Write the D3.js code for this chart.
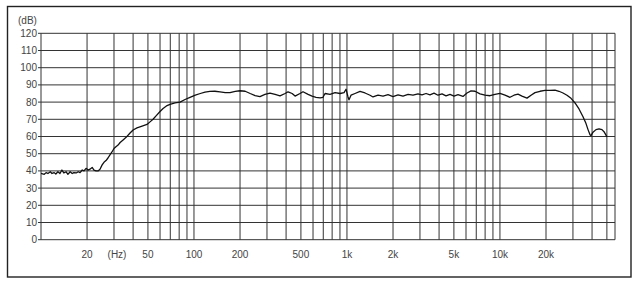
<!DOCTYPE html>
<html>
<head>
<meta charset="utf-8">
<script src="https://cdn.jsdelivr.net/npm/d3@7"></script>
<style>
  body { margin: 0; background: #fff; }
  svg text { font-family: "Liberation Sans", Arial, sans-serif; font-size: 10px; fill: #444; }
</style>
</head>
<body>
<div id="chart"></div>
<script>
// frequency response (Hz / dB)
var freq = [10, 10.5, 10.8, 11.1, 11.5, 11.8, 12.2, 12.5, 12.9, 13.3, 13.7, 14.1, 14.6, 15.0, 15.5, 16.0, 16.4, 17.0, 17.5, 18.0,
  18.6, 19.1, 19.7, 20.3, 20.9, 21.6, 22.2, 22.9, 23.6, 24.3, 25.1, 25.8, 26.6, 27.4, 28.3, 29.1, 30.0, 30.9, 31.9, 32.9,
  34.4, 36.0, 38.2, 40.0, 42.4, 45.8, 49.3, 51.6, 54.0, 56.5, 60.0, 62.8, 66.7, 69.7, 75.2, 81.1, 87.4, 94.2, 102, 110,
  118, 127, 137, 148, 160, 172, 186, 200, 216, 233, 251, 270, 291, 314, 339, 365, 394, 412, 438, 458,
  493, 516, 557, 591, 628, 667, 697, 719, 775, 836, 901, 957, 986, 1016, 1031, 1063, 1129, 1217, 1312, 1415,
  1480, 1596, 1721, 1855, 2000, 2156, 2325, 2507, 2702, 2913, 3094, 3287, 3490, 3707, 3937, 4182, 4440, 4716, 5009, 5320,
  5735, 6091, 6469, 6871, 7407, 7985, 8610, 9283, 10005, 10790, 11633, 12354, 13122, 13936, 15026, 15960, 16952, 18276, 19702, 21240,
  22900, 24320, 25830, 27430, 29140, 30950, 32870, 34910, 36530, 37640, 38790, 39380, 40580, 42450, 44410, 46460, 47880, 50070];
var level = [38.5, 38, 39, 38.5, 39.5, 38.5, 39, 38.2, 39.5, 38.5, 40.5, 38.8, 39.5, 38, 39.5, 38.5, 39, 38.8, 39.5, 39,
  40.5, 40, 41.5, 40.5, 41, 42, 40.5, 40, 40, 41, 43.5, 45, 46, 47.5, 49.5, 51, 53, 54, 55, 56.5,
  58, 59.5, 62, 63.8, 65, 66, 67, 68.5, 70, 72, 74.5, 76.3, 78, 78.7, 79.5, 80, 81.5, 82.8, 84, 85,
  85.8, 86.2, 86.3, 86, 85.5, 85.5, 86.2, 86.6, 86.3, 85, 83.8, 83.2, 84.5, 85.2, 84.5, 83.6, 85, 86, 85, 83.5,
  85, 86, 84.5, 83.5, 82.8, 82.5, 82.8, 85, 84.5, 85.5, 85, 85.5, 87.5, 83, 81.3, 84, 85, 86.2, 85.3, 84,
  83, 84, 83.5, 84.3, 83.2, 84.2, 83.5, 84.5, 84, 84.8, 84.2, 85, 84.2, 85.2, 84, 84.8, 83.6, 84.5, 83.5, 84.3,
  83.3, 85.3, 86.5, 86.3, 84.8, 84, 83.7, 84.5, 85.1, 84, 82.8, 84, 84.6, 83.5, 82.3, 84, 85.5, 86.3, 86.8, 86.8,
  87, 86.3, 85.3, 84, 82.2, 79.5, 76, 71.5, 67.5, 64, 61, 60.5, 62.5, 64, 64.4, 64, 62.8, 59.8];

var gridFreqs = [20, 30, 40, 50, 60, 70, 80, 90, 100, 200, 300, 400, 500, 600, 700, 800, 900,
  1000, 2000, 3000, 4000, 5000, 6000, 7000, 8000, 9000, 10000, 20000, 30000, 40000, 50000];
var xTickValues = [20, 50, 100, 200, 500, 1000, 2000, 5000, 10000, 20000];
var xTickLabels = ["20", "50", "100", "200", "500", "1k", "2k", "5k", "10k", "20k"];
var yTickValues = [0, 10, 20, 30, 40, 50, 60, 70, 80, 90, 100, 110, 120];

var width = 640, height = 286;
var plotLeft = 41, plotRight = 615, plotTop = 33.3, plotBottom = 239.7;

var svg = d3.select("#chart").append("svg")
  .attr("width", width)
  .attr("height", height);

// outer frame
svg.append("rect")
  .attr("x", 7.5).attr("y", 6.5)
  .attr("width", 623.5).attr("height", 270.5)
  .attr("fill", "none")
  .attr("stroke", "#222")
  .attr("stroke-width", 1.4);

var x = d3.scaleLog().domain([10, 56500]).range([plotLeft, plotRight]);
var y = d3.scaleLinear().domain([0, 120]).range([plotBottom, plotTop]);

// horizontal grid, with a little tick sticking out on the left
svg.append("g").selectAll("line")
  .data(yTickValues)
  .enter()
  .append("line")
  .attr("x1", plotLeft - 3).attr("x2", plotRight)
  .attr("y1", function(d) { return y(d); })
  .attr("y2", function(d) { return y(d); })
  .attr("stroke", "#333")
  .attr("stroke-width", 1);

// vertical grid
svg.append("g").selectAll("line")
  .data(gridFreqs)
  .enter()
  .append("line")
  .attr("x1", function(d) { return x(d); })
  .attr("x2", function(d) { return x(d); })
  .attr("y1", plotTop).attr("y2", plotBottom)
  .attr("stroke", "#333")
  .attr("stroke-width", 1);

// plot borders left/right
svg.append("line").attr("x1", plotLeft).attr("x2", plotLeft).attr("y1", plotTop).attr("y2", plotBottom)
  .attr("stroke", "#333").attr("stroke-width", 1);
svg.append("line").attr("x1", plotRight).attr("x2", plotRight).attr("y1", plotTop).attr("y2", plotBottom)
  .attr("stroke", "#333").attr("stroke-width", 1);

// y labels
svg.append("g").selectAll("text")
  .data(yTickValues)
  .enter()
  .append("text")
  .attr("x", 37)
  .attr("y", function(d) { return y(d) + 3.5; })
  .attr("text-anchor", "end")
  .text(function(d) { return d; });

svg.append("text").attr("x", 18).attr("y", 24).text("(dB)");

// x labels
svg.append("g").selectAll("text")
  .data(xTickValues)
  .enter()
  .append("text")
  .attr("x", function(d) { return x(d); })
  .attr("y", 258)
  .attr("text-anchor", "middle")
  .text(function(d, i) { return xTickLabels[i]; });

svg.append("text").attr("x", 117).attr("y", 258).attr("text-anchor", "middle").text("(Hz)");

// response curve
var data = freq.map(function(f, i) { return { f: f, v: level[i] }; });
var line = d3.line()
  .x(function(d) { return x(d.f); })
  .y(function(d) { return y(d.v); });

svg.append("path")
  .datum(data)
  .attr("d", line)
  .attr("fill", "none")
  .attr("stroke", "#111")
  .attr("stroke-width", 1.3)
  .attr("stroke-linejoin", "round");
</script>
</body>
</html>
